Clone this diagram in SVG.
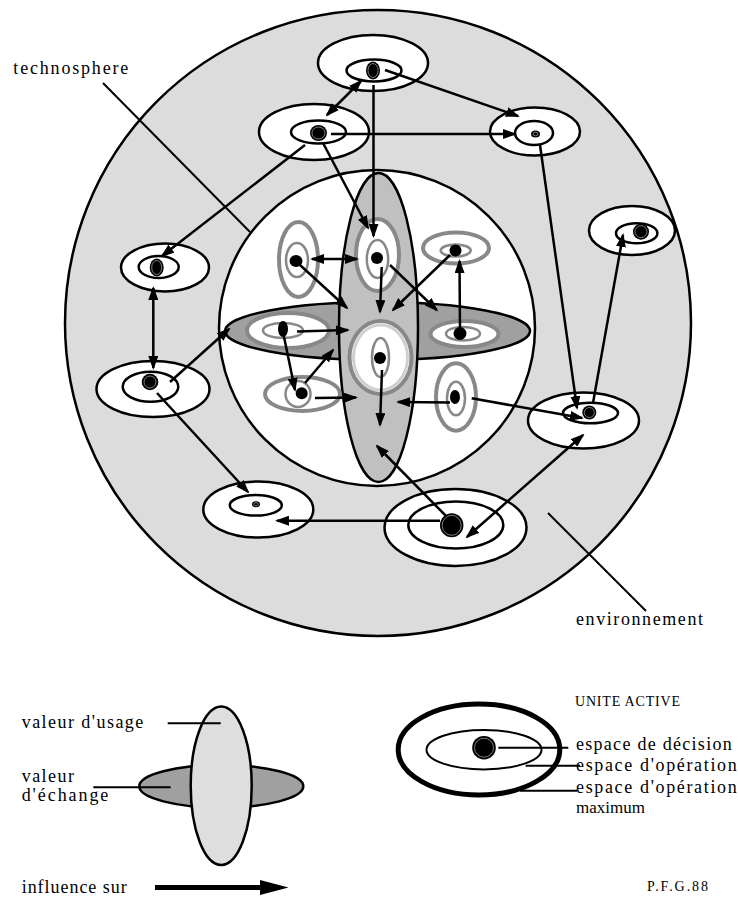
<svg xmlns="http://www.w3.org/2000/svg" width="738" height="897" viewBox="0 0 738 897">
<style>
.bg{fill:#dcdcdc;stroke:#000;stroke-width:2.5}
.tc{fill:#fff;stroke:#000;stroke-width:2.5}
.on{fill:#fff;stroke:#000;stroke-width:2.5}
.oi{fill:none;stroke:#000;stroke-width:2.5}
.dot{fill:#000}
.dr{fill:none;stroke:#999;stroke-width:0.8}
.gr{fill:#fff;stroke:#888;stroke-width:4}
.gl{fill:none;stroke:#cfcfcf;stroke-width:3}
.gi{fill:none;stroke:#888;stroke-width:2.5}
.c{stroke:#000;stroke-width:2.5;fill:none}
.a{marker-end:url(#ah)}
.b{marker-start:url(#ah);marker-end:url(#ah)}
.l{stroke:#000;stroke-width:2;fill:none}
.t{font-family:"Liberation Serif","Times New Roman",serif;font-size:18px;fill:#000}
.ts{font-family:"Liberation Serif","Times New Roman",serif;font-size:14px;fill:#000}
</style>
<defs>
<marker id="ah" viewBox="0 0 14 10" refX="12" refY="5" markerWidth="14" markerHeight="10" markerUnits="userSpaceOnUse" orient="auto-start-reverse"><path d="M0,0 L14,5 L0,10 z" fill="#000"/></marker>
</defs>
<rect width="738" height="897" fill="#fff"/>

<g id="environment">
<circle class="bg" cx="378" cy="323" r="313"/>
</g>
<g id="technosphere-label-line"><line class="l" x1="103" y1="83" x2="250" y2="232"/></g>
<g id="environment-label-line"><line class="l" x1="548" y1="513" x2="646" y2="611"/></g>

<g id="technosphere">
<circle class="tc" cx="377" cy="328" r="158"/>
<ellipse cx="377.5" cy="331" rx="152.5" ry="29" fill="#a0a0a0" stroke="#000" stroke-width="2.5"/>
<ellipse cx="378.5" cy="327.5" rx="39.5" ry="154.5" fill="#c0c0c0" stroke="#000" stroke-width="2.5"/>
</g>

<g id="nodeA"><ellipse class="on" cx="373" cy="63" rx="55" ry="28"/><ellipse class="oi" cx="374" cy="70.5" rx="27.5" ry="11"/><ellipse class="dot" cx="373" cy="70.5" rx="7" ry="9"/><ellipse class="dr" cx="373" cy="70.5" rx="5" ry="7"/></g>
<g id="nodeB"><ellipse class="on" cx="314" cy="132" rx="55" ry="28"/><ellipse class="oi" cx="318.5" cy="132" rx="27.5" ry="11.5"/><ellipse class="dot" cx="318.5" cy="133" rx="8.5" ry="8"/><ellipse class="dr" cx="318.5" cy="133" rx="6.5" ry="6"/></g>
<g id="nodeC"><ellipse class="on" cx="535" cy="131.5" rx="45" ry="24"/><ellipse class="oi" cx="534" cy="133" rx="19" ry="12"/><ellipse class="dot" cx="535.5" cy="134" rx="4.5" ry="3.5"/><ellipse class="dr" cx="535.5" cy="134" rx="2.5" ry="1.8"/></g>
<g id="nodeD"><ellipse class="on" cx="165" cy="267.5" rx="44" ry="24"/><ellipse class="oi" cx="158.7" cy="267" rx="20" ry="11"/><ellipse class="dot" cx="156.7" cy="267.5" rx="7" ry="9"/><ellipse class="dr" cx="156.7" cy="267.5" rx="5" ry="7"/></g>
<g id="nodeE"><ellipse class="on" cx="153" cy="389" rx="56.5" ry="28"/><ellipse class="oi" cx="150.5" cy="386.7" rx="27.8" ry="15"/><ellipse class="dot" cx="150" cy="382" rx="8.3" ry="8.3"/><ellipse class="dr" cx="150" cy="382" rx="6" ry="6"/></g>
<g id="nodeF"><ellipse class="on" cx="258.3" cy="509.5" rx="55" ry="28"/><ellipse class="oi" cx="255.8" cy="505.3" rx="26" ry="10.3"/><ellipse class="dot" cx="256" cy="504.3" rx="4" ry="3"/><ellipse class="dr" cx="256" cy="504.3" rx="2.3" ry="1.6"/></g>
<g id="nodeG"><ellipse class="on" cx="455.5" cy="527.5" rx="71" ry="38.5"/><ellipse class="oi" cx="455.8" cy="525" rx="47.5" ry="23.5"/><ellipse class="dot" cx="451.7" cy="525.3" rx="11.7" ry="12"/><ellipse class="dr" cx="451.7" cy="525.3" rx="9.5" ry="10"/></g>
<g id="nodeH"><ellipse class="on" cx="632" cy="230.5" rx="43" ry="24.5"/><ellipse class="oi" cx="636.7" cy="233.3" rx="20.7" ry="10"/><ellipse class="dot" cx="641" cy="231.7" rx="8" ry="8"/><ellipse class="dr" cx="641" cy="231.7" rx="6" ry="6"/></g>
<g id="nodeI"><ellipse class="on" cx="583.5" cy="420.5" rx="55.5" ry="28"/><ellipse class="oi" cx="590.5" cy="413" rx="27.5" ry="10.3"/><ellipse class="dot" cx="589.3" cy="412.5" rx="7" ry="7"/><ellipse class="dr" cx="589.3" cy="412.5" rx="5" ry="5"/></g>

<g id="inner1"><ellipse class="gr" cx="298.5" cy="259.5" rx="19.5" ry="37.5"/><ellipse class="gi" cx="297" cy="260" rx="11" ry="17"/><ellipse class="dot" cx="296" cy="261" rx="6.5" ry="6"/></g>
<g id="inner2"><ellipse class="gr" cx="377.5" cy="255" rx="21.5" ry="36"/><ellipse class="gi" cx="377.5" cy="259" rx="10.7" ry="19"/><ellipse class="dot" cx="377" cy="258" rx="6" ry="6"/></g>
<g id="inner3"><ellipse class="gr" cx="456" cy="248" rx="33" ry="15.5"/><ellipse class="gi" cx="455.7" cy="250.5" rx="15" ry="6"/><ellipse class="dot" cx="455.5" cy="250.5" rx="6" ry="6"/></g>
<g id="inner4"><ellipse class="gr" cx="288" cy="330.5" rx="41" ry="17.5"/><ellipse class="gi" cx="283" cy="330.5" rx="20" ry="7.5"/><ellipse class="dot" cx="283" cy="329" rx="5" ry="8"/></g>
<g id="inner5"><ellipse class="gr" cx="464.5" cy="334" rx="34" ry="13"/><ellipse class="gi" cx="463" cy="333.7" rx="17" ry="6.8"/><ellipse class="dot" cx="460" cy="333.5" rx="6.5" ry="6.5"/></g>
<g id="inner6"><ellipse class="gr" cx="302.5" cy="394" rx="37.5" ry="17"/><ellipse class="gi" cx="298" cy="394" rx="12.5" ry="13"/><ellipse class="dot" cx="301.7" cy="393.3" rx="6" ry="6"/></g>
<g id="inner7"><ellipse class="gr" cx="456" cy="397" rx="20" ry="33.7"/><ellipse class="gi" cx="456" cy="398.5" rx="9" ry="16.7"/><ellipse class="dot" cx="455" cy="397" rx="5" ry="7"/></g>
<g id="innerCentral"><ellipse class="gr" cx="380.5" cy="357.5" rx="31" ry="36.5"/><ellipse class="gl" cx="380.5" cy="357.5" rx="27" ry="32.5"/><ellipse class="gi" cx="380.5" cy="357.5" rx="8.5" ry="19.5"/><ellipse class="dot" cx="380" cy="358" rx="6" ry="6"/></g>

<g id="connectors">
<line class="c b" x1="312" y1="259" x2="357" y2="259"/>
<line class="c a" x1="300" y1="265" x2="347" y2="308"/>
<line class="c a" x1="373.5" y1="85" x2="373.5" y2="236"/>
<line class="c a" x1="381.7" y1="267" x2="380" y2="312"/>
<line class="c a" x1="390" y1="265" x2="436.7" y2="310"/>
<line class="c a" x1="450" y1="255" x2="393" y2="310"/>
<line class="c a" x1="460" y1="333" x2="459.5" y2="261"/>
<line class="c a" x1="297" y1="331.5" x2="348" y2="330"/>
<line class="c a" x1="283" y1="332" x2="295" y2="390"/>
<line class="c a" x1="305" y1="383" x2="333" y2="350"/>
<line class="c a" x1="315" y1="398" x2="356" y2="397.5"/>
<line class="c a" x1="382" y1="370" x2="380" y2="425"/>
<line class="c a" x1="450" y1="402.5" x2="398" y2="402"/>
<line class="c a" x1="446.7" y1="516.7" x2="377" y2="446"/>
<line class="c a" x1="471.7" y1="398.3" x2="582" y2="418"/>
<line class="c b" x1="361" y1="81" x2="327" y2="115"/>
<line class="c a" x1="385" y1="70" x2="518" y2="116"/>
<line class="c a" x1="331" y1="134" x2="515" y2="134"/>
<line class="c a" x1="305" y1="145" x2="162" y2="256"/>
<line class="c a" x1="323" y1="143" x2="368" y2="228"/>
<line class="c a" x1="540" y1="145" x2="577" y2="408"/>
<line class="c a" x1="593" y1="403" x2="623" y2="235"/>
<line class="c b" x1="153.3" y1="288" x2="153.3" y2="368"/>
<line class="c a" x1="170" y1="382" x2="229" y2="329"/>
<line class="c a" x1="157" y1="393" x2="248" y2="492"/>
<line class="c a" x1="440" y1="520.7" x2="277" y2="520.7"/>
<line class="c b" x1="583" y1="435" x2="467" y2="537"/>
</g>

<g id="labels">
<text class="t" x="13.3" y="74.3" textLength="115" lengthAdjust="spacing">technosphere</text>
<text class="t" x="576" y="625" textLength="127" lengthAdjust="spacing">environnement</text>
</g>

<g id="legend-values">
<ellipse cx="221.3" cy="786.3" rx="82" ry="21.3" fill="#a0a0a0" stroke="#000" stroke-width="2.5"/>
<ellipse cx="221.2" cy="785.8" rx="30.5" ry="79.2" fill="#dedede" stroke="#000" stroke-width="2.5"/>
<line class="l" x1="167.7" y1="723.3" x2="220.7" y2="723.3"/>
<line class="l" x1="93.3" y1="787.3" x2="170.7" y2="787.3"/>
<text class="t" x="21.7" y="727.7" textLength="121.6" lengthAdjust="spacing">valeur d'usage</text>
<text class="t" x="21.7" y="781.7" textLength="52.3" lengthAdjust="spacing">valeur</text>
<text class="t" x="21.7" y="800.7" textLength="86.6" lengthAdjust="spacing">d'échange</text>
</g>
<g id="legend-influence">
<line x1="155" y1="887.5" x2="262" y2="887.5" stroke="#000" stroke-width="5"/>
<polygon points="260,880 288.5,887.5 260,895" fill="#000"/>
<text class="t" x="21.7" y="893.3" textLength="105" lengthAdjust="spacing">influence sur</text>
</g>
<g id="legend-unit">
<text class="ts" x="575" y="706" textLength="105" lengthAdjust="spacing">UNITE ACTIVE</text>
<ellipse cx="479" cy="749.5" rx="80.8" ry="45.5" fill="#fff" stroke="#000" stroke-width="5"/>
<ellipse cx="484" cy="749.7" rx="57.5" ry="19.7" fill="none" stroke="#000" stroke-width="2"/>
<circle cx="484" cy="747.7" r="11.8" fill="#000"/>
<circle cx="484" cy="747.7" r="9.5" fill="none" stroke="#999" stroke-width="0.8"/>
<line class="l" x1="498.3" y1="747.7" x2="568.3" y2="747.7"/>
<line class="l" x1="525.7" y1="765.7" x2="580" y2="765.7"/>
<line class="l" x1="520" y1="790.7" x2="577" y2="790.7"/>
<text class="t" x="576" y="750" textLength="155.7" lengthAdjust="spacing">espace de décision</text>
<text class="t" x="576" y="770.7" textLength="160.7" lengthAdjust="spacing">espace d'opération</text>
<text class="t" x="576" y="793.3" textLength="160.7" lengthAdjust="spacing">espace d'opération</text>
<text class="t" x="576" y="813.3" style="font-size:17px">maximum</text>
</g>
<g id="signature"><text class="ts" x="647" y="891" textLength="61" lengthAdjust="spacing">P.F.G.88</text></g>
</svg>
